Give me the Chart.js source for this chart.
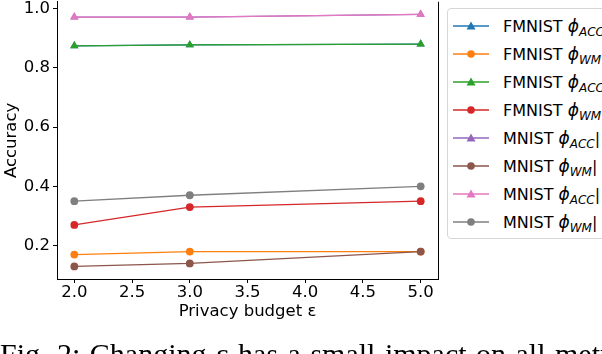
<!DOCTYPE html>
<html>
<head>
<meta charset="utf-8">
<script src="https://cdn.jsdelivr.net/npm/chart.js@4.4.1/dist/chart.umd.min.js"></script>
<style>
html, body { margin: 0; padding: 0; background: #fff; }
#wrap { position: relative; width: 602px; height: 354px; overflow: hidden; }
#chart { position: absolute; left: 0; top: -3px; }
#legend { position: absolute; left: 447px; top: 8px; width: 220px; height: 229px;
  border: 1px solid #d6d6d6; border-radius: 4px; background: #fff;
  font-family: "DejaVu Sans"; font-size: 16px; color: #000; }
.item { position: absolute; left: 0; height: 28px; width: 220px; white-space: nowrap; }
.item svg { position: absolute; left: 5px; top: 0; }
.item .txt { position: absolute; left: 55px; top: 4px; line-height: 20px; }
.item i { font-style: italic; font-size: 17px; }
.item sub { font-size: 12px; font-style: italic; vertical-align: -4px; line-height: 0; }
#caption { position: absolute; left: 0; top: 339px; width: 700px; white-space: nowrap;
  font-family: "Liberation Serif"; font-size: 30px; line-height: 30px; color: #000; word-spacing: 2px; }
</style>
</head>
<body>
<div id="wrap">
  <canvas id="chart" width="602" height="357"></canvas>
  <div id="legend"></div>
  <div id="caption">Fig. 2: Changing ε has a small impact on all metrics ϕ/ϕ. Here</div>
</div>
<script>
// privacy budget values on the x axis
const epsilons = [2.0, 3.0, 5.0];

// accuracy per run
const fmnistAccA = [0.874, 0.877, 0.880];
const fmnistWmA  = [0.17, 0.18, 0.18];
const fmnistAccB = [0.874, 0.877, 0.880];
const fmnistWmB  = [0.27, 0.33, 0.35];
const mnistAccA  = [0.971, 0.971, 0.980];
const mnistWmA   = [0.13, 0.14, 0.18];
const mnistAccB  = [0.971, 0.971, 0.980];
const mnistWmB   = [0.35, 0.37, 0.40];

const xTicks = [2.0, 2.5, 3.0, 3.5, 4.0, 4.5, 5.0];
const yTicks = [0.2, 0.4, 0.6, 0.8, 1.0];

const seriesNames   = ['FMNIST', 'FMNIST', 'FMNIST', 'FMNIST', 'MNIST', 'MNIST', 'MNIST', 'MNIST'];
const seriesMetrics = ['ACC', 'WM', 'ACC', 'WM', 'ACC', 'WM', 'ACC', 'WM'];
const seriesValues  = [fmnistAccA, fmnistWmA, fmnistAccB, fmnistWmB, mnistAccA, mnistWmA, mnistAccB, mnistWmB];
const seriesColors  = ['#1f77b4', '#ff7f0e', '#2ca02c', '#d62728', '#9467bd', '#8c564b', '#e377c2', '#7f7f7f'];

Chart.defaults.font.family = 'DejaVu Sans';
Chart.defaults.font.size = 16.5;
Chart.defaults.color = '#000';

const datasets = seriesValues.map((vals, i) => ({
  label: seriesNames[i] + ' ϕ' + seriesMetrics[i],
  data: epsilons.map((e, j) => ({ x: e, y: vals[j] })),
  borderColor: seriesColors[i],
  backgroundColor: seriesColors[i],
  borderWidth: 1.3,
  pointStyle: seriesMetrics[i] === 'ACC' ? 'triangle' : 'circle',
  pointRadius: seriesMetrics[i] === 'ACC' ? 4.8 : 3.9,
  pointBorderWidth: 0,
  order: -i
}));

const rightSpine = {
  id: 'rightSpine',
  afterDatasetsDraw(chart) {
    const a = chart.chartArea, c = chart.ctx;
    c.save();
    c.strokeStyle = '#000';
    c.lineWidth = 1;
    c.beginPath();
    c.moveTo(Math.round(a.right) + 0.5, a.top);
    c.lineTo(Math.round(a.right) + 0.5, a.bottom);
    c.stroke();
    c.restore();
  }
};

const chart = new Chart(document.getElementById('chart').getContext('2d'), {
  type: 'line',
  data: { datasets: datasets },
  plugins: [rightSpine],
  options: {
    responsive: false,
    animation: false,
    layout: { padding: { left: 0, right: 164, top: 0, bottom: 29 } },
    plugins: { legend: { display: false }, tooltip: { enabled: false } },
    scales: {
      x: {
        type: 'linear',
        min: 1.85,
        max: 5.15,
        afterBuildTicks: s => { s.ticks = xTicks.map(v => ({ value: v })); },
        afterFit: s => { s.height = 46; s.paddingLeft = 0; s.paddingRight = 0; },
        ticks: { autoSkip: false, maxRotation: 0, padding: 0, callback: v => v.toFixed(1) },
        grid: { drawOnChartArea: false, tickLength: 4, color: '#000' },
        border: { color: '#000', width: 1 },
        title: { display: true, text: 'Privacy budget ε', padding: { top: 0, bottom: 3 } }
      },
      y: {
        min: 0.0875,
        max: 1.0225,
        afterBuildTicks: s => { s.ticks = yTicks.map(v => ({ value: v })); },
        afterFit: s => { s.width = 57; s.paddingTop = 0; s.paddingBottom = 0; },
        ticks: { autoSkip: false, padding: 3, callback: v => v.toFixed(1) },
        grid: { drawOnChartArea: false, tickLength: 4, color: '#000' },
        border: { color: '#000', width: 1 },
        title: { display: true, text: 'Accuracy', padding: { top: 2, bottom: 0 } }
      }
    }
  }
});

// html legend so the phi subscripts can be set as in the figure
const legend = document.getElementById('legend');
seriesNames.forEach((name, i) => {
  const row = document.createElement('div');
  row.className = 'item';
  row.style.top = (3 + i * 28) + 'px';
  const col = seriesColors[i];
  const marker = seriesMetrics[i] === 'ACC'
    ? '<polygon points="18,9.5 22.5,17.5 13.5,17.5" fill="' + col + '"/>'
    : '<circle cx="18" cy="14" r="3.8" fill="' + col + '"/>';
  row.innerHTML = '<svg width="36" height="28"><line x1="0" y1="14" x2="36" y2="14" stroke="' + col +
    '" stroke-width="1.3"/>' + marker + '</svg>' +
    '<span class="txt">' + name + ' <i>ϕ</i><sub>' + seriesMetrics[i] + '</sub>|</span>';
  legend.appendChild(row);
});
</script>
</body>
</html>
